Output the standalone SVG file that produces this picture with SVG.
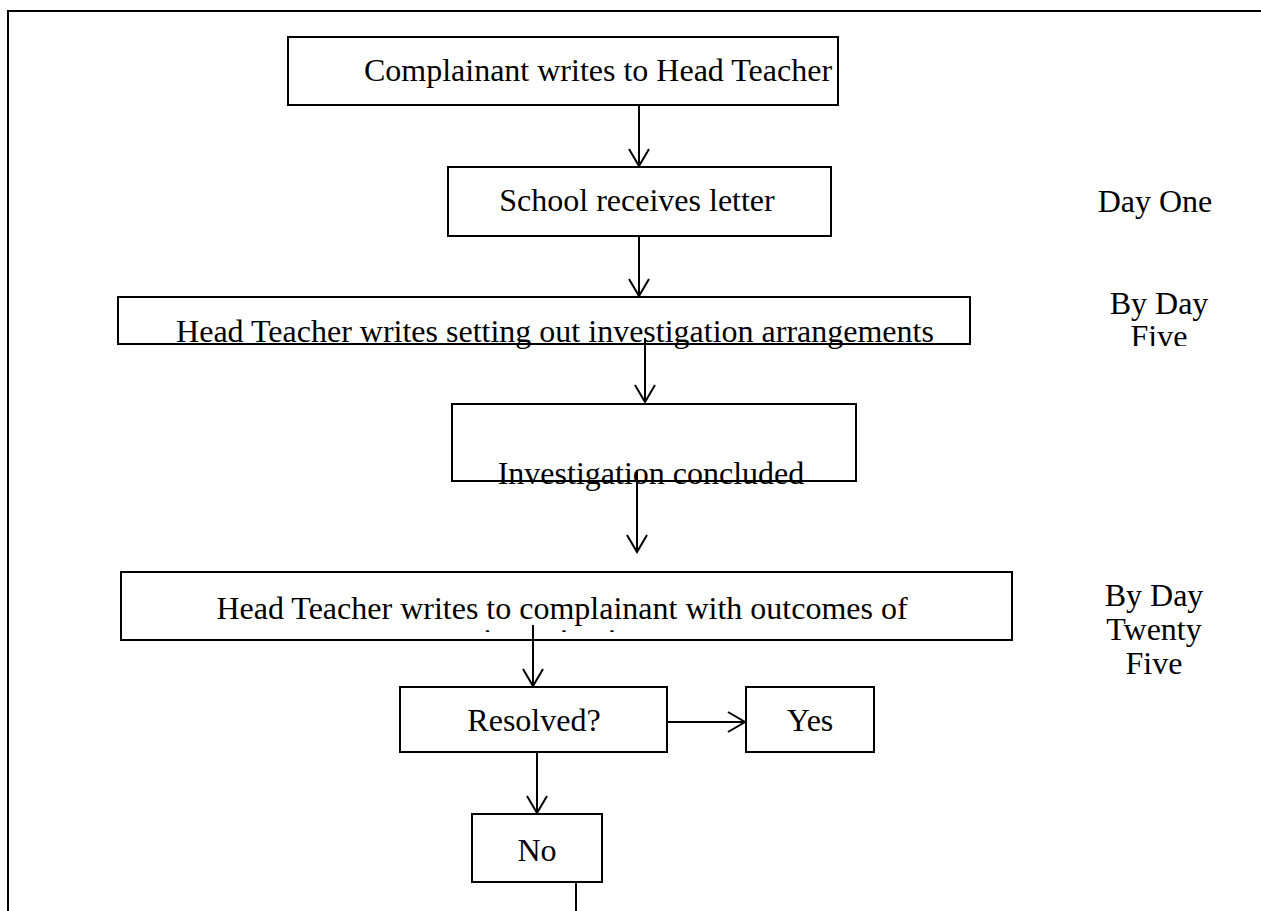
<svg xmlns="http://www.w3.org/2000/svg" width="1261" height="911" viewBox="0 0 1261 911">
<style>
.box{fill:#fff;stroke:#000;stroke-width:2}
.t{font-family:"Liberation Serif","Times New Roman",serif;font-size:32px;fill:#000}
.c{text-anchor:middle}
.ln{stroke:#000;stroke-width:2;fill:none}
</style>
<defs>
<marker id="ah" viewBox="0 0 20 22" refX="18" refY="11" markerWidth="20" markerHeight="22" markerUnits="userSpaceOnUse" orient="auto">
<path d="M1,1 L18,11 L1,21" fill="none" stroke="#000" stroke-width="2"/>
</marker>
<clipPath id="clipFive"><rect x="1050" y="250" width="200" height="96"/></clipPath>
<clipPath id="clipInv"><rect x="100" y="560" width="950" height="72"/></clipPath>
</defs>
<rect width="1261" height="911" fill="#fff"/>
<path d="M8,911 V11 H1261" class="ln"/>
<g id="n1"><rect class="box" x="288" y="37" width="550" height="68"/><text class="t c" x="598" y="81">Complainant writes to Head Teacher</text></g>
<g id="n2"><rect class="box" x="448" y="167" width="383" height="69"/><text class="t c" x="637" y="211">School receives letter</text></g>
<g id="lbl1"><text class="t c" x="1155" y="212">Day One</text></g>
<g id="n3"><rect class="box" x="118" y="297" width="852" height="47"/><text class="t c" x="555" y="342">Head Teacher writes setting out investigation arrangements</text></g>
<g id="lbl2"><text class="t c" x="1159" y="314">By Day</text><text class="t c" x="1159" y="347" clip-path="url(#clipFive)">Five</text></g>
<g id="n4"><rect class="box" x="452" y="404" width="404" height="77"/><text class="t c" x="651" y="484">Investigation concluded</text></g>
<g id="n5"><rect class="box" x="121" y="572" width="891" height="68"/><g clip-path="url(#clipInv)"><text class="t c" x="562" y="619">Head Teacher writes to complainant with outcomes of</text><text class="t c" x="566" y="651">investigation</text></g></g>
<g id="lbl3"><text class="t c" x="1154" y="606">By Day</text><text class="t c" x="1154" y="640">Twenty</text><text class="t c" x="1154" y="674">Five</text></g>
<g id="n6"><rect class="box" x="400" y="687" width="267" height="65"/><text class="t c" x="534" y="731">Resolved?</text></g>
<g id="n7"><rect class="box" x="746" y="687" width="128" height="65"/><text class="t c" x="810" y="731">Yes</text></g>
<g id="n8"><rect class="box" x="472" y="814" width="130" height="68"/><text class="t c" x="537" y="861">No</text></g>
<g id="connectors">
<line class="ln" x1="639" y1="105" x2="639" y2="166" marker-end="url(#ah)"/>
<line class="ln" x1="639" y1="236" x2="639" y2="296" marker-end="url(#ah)"/>
<line class="ln" x1="645" y1="338" x2="645" y2="402" marker-end="url(#ah)"/>
<line class="ln" x1="637" y1="470" x2="637" y2="552" marker-end="url(#ah)"/>
<line class="ln" x1="533" y1="625" x2="533" y2="686" marker-end="url(#ah)"/>
<line class="ln" x1="667" y1="722" x2="745" y2="722" marker-end="url(#ah)"/>
<line class="ln" x1="537" y1="752" x2="537" y2="813" marker-end="url(#ah)"/>
<line class="ln" x1="576" y1="882" x2="576" y2="911"/>
</g>
</svg>
